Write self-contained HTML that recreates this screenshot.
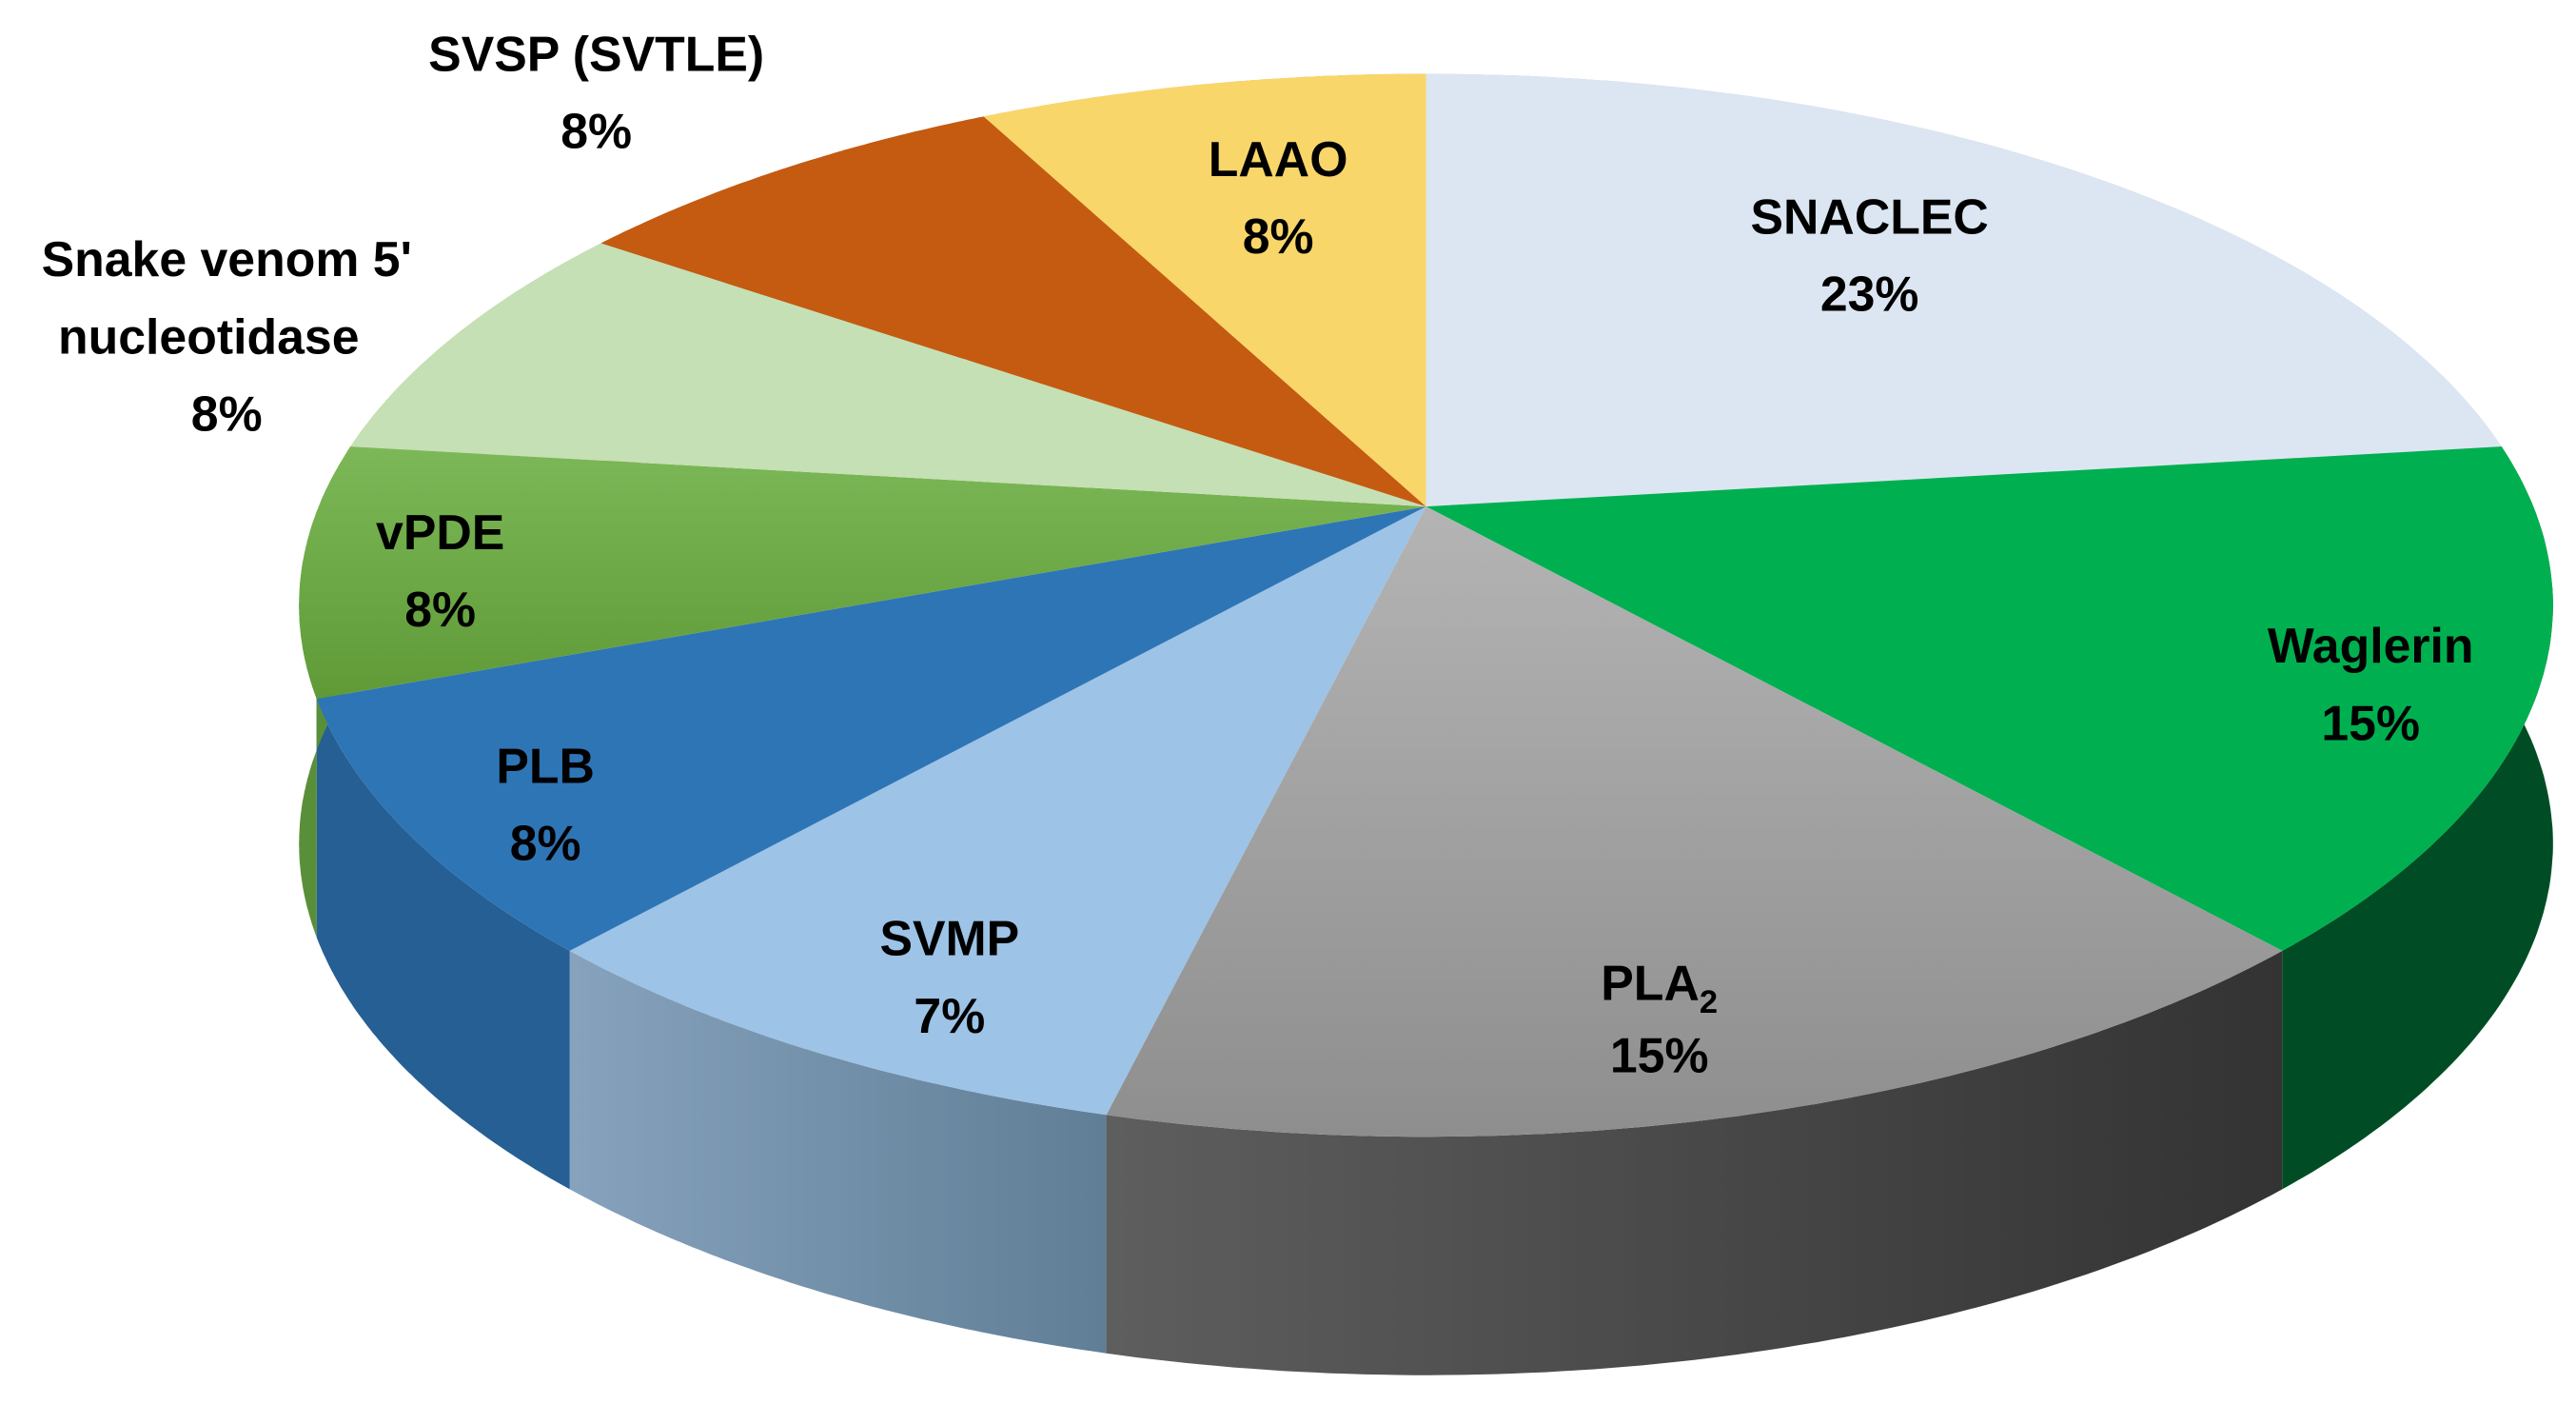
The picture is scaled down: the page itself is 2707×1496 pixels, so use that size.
<!DOCTYPE html>
<html><head><meta charset="utf-8"><style>
html,body{margin:0;padding:0;background:#fff;}
svg{display:block;}
text{font-family:"Liberation Sans",sans-serif;font-weight:bold;fill:#000;font-size:30px;text-anchor:middle;}
</style></head><body>
<svg id="chart" width="2707" height="1496" viewBox="0 0 1568 866" preserveAspectRatio="none" xmlns="http://www.w3.org/2000/svg">
<defs>
<linearGradient id="gPlaSide" x1="0" x2="1" y1="0" y2="0"><stop offset="0" stop-color="#5e5e5e"/><stop offset="1" stop-color="#333"/></linearGradient>
<linearGradient id="gSvmpSide" x1="0" x2="1" y1="0" y2="0"><stop offset="0" stop-color="#86a2bd"/><stop offset="1" stop-color="#607e96"/></linearGradient>
<linearGradient id="gPlaTop" x1="0" x2="0" y1="0" y2="1"><stop offset="0" stop-color="#b4b4b4"/><stop offset="1" stop-color="#8e8e8e"/></linearGradient>
<linearGradient id="gVpdeTop" x1="0" x2="0" y1="0" y2="1"><stop offset="0" stop-color="#7cb857"/><stop offset="1" stop-color="#5f9a37"/></linearGradient>
</defs>
<g id="sides"></g><g id="tops"></g><g id="labels"></g>
</svg>
<script>
const categories=["SNACLEC","Waglerin","PLA2","SVMP","PLB","vPDE","Snake venom 5' nucleotidase","SVSP (SVTLE)","LAAO"];
const values=[23.1,15.3,15.4,7.8,7.7,7.6,7.7,7.7,7.7];
const labelText=["23%","15%","15%","7%","8%","8%","8%","8%","8%"];
const topColors=["#dce6f2","#00b050","url(#gPlaTop)","#9dc3e6","#2e75b6","url(#gVpdeTop)","#c5e0b4","#c55a11","#f9d66a"];
const sideColors=["#b0b8c2","#004d25","url(#gPlaSide)","url(#gSvmpSide)","#255f94","#5a8f3a","#9db38f","#9d480e","#c7ab55"];
const NS="http://www.w3.org/2000/svg";
const cx=868,cy=308,A=312,B=674,K=-0.186,D=145;
function proj(r,th){const u=r*Math.sin(th),v=-r*Math.cos(th);const w=1+K*v;return [cx+B*u/w,cy+A*v/w];}
const total=values.reduce((a,b)=>a+b,0);
const sides=document.getElementById('sides'),tops=document.getElementById('tops'),labs=document.getElementById('labels');
let cum=0;
const labelPos=[[1138,131],[1443,392],[1010,597],[578,570],[332,465],[268,323],[138,157],[363,32],[778,96]];
values.forEach((val,i)=>{
  const a1=cum/total*2*Math.PI,a2=(cum+val)/total*2*Math.PI;cum+=val;
  const pts=[];const n=80;
  for(let j=0;j<=n;j++){pts.push(proj(1,a1+(a2-a1)*j/n));}
  let sd="M"+pts.map(p=>p[0].toFixed(1)+","+p[1].toFixed(1)).join(" L");
  for(let j=n;j>=0;j--){sd+=" L"+pts[j][0].toFixed(1)+","+(pts[j][1]+D).toFixed(1);}
  const sp=document.createElementNS(NS,'path');sp.setAttribute('d',sd+"Z");sp.setAttribute('fill',sideColors[i]);
  
  
  sides.appendChild(sp);
  const tp=document.createElementNS(NS,'path');
  tp.setAttribute('d',"M"+cx+","+cy+" L"+pts.map(p=>p[0].toFixed(1)+","+p[1].toFixed(1)).join(" L")+"Z");
  tp.setAttribute('fill',topColors[i]);
  
  
  tops.appendChild(tp);
  const [lx,ly]=labelPos[i];
  const t=document.createElementNS(NS,'text');
  
  
  let lines;
  if(i===6){lines=["Snake venom 5'","nucleotidase",labelText[i]];}
  else if(i===2){lines=["PLA",labelText[i]];}
  else {lines=[categories[i],labelText[i]];}
  lines.forEach((ln,k)=>{
    const ts=document.createElementNS(NS,'tspan');ts.setAttribute('x',i===6&&k===1?127:lx);ts.setAttribute('y',ly+11+k*(i===2?44:47));
    ts.textContent=ln;t.appendChild(ts);
    if(i===2&&k===0){const sub=document.createElementNS(NS,'tspan');sub.setAttribute('dy','8');sub.setAttribute('font-size','20');sub.textContent='2';t.appendChild(sub);}
  });
  labs.appendChild(t);
});
</script>
</body></html>
